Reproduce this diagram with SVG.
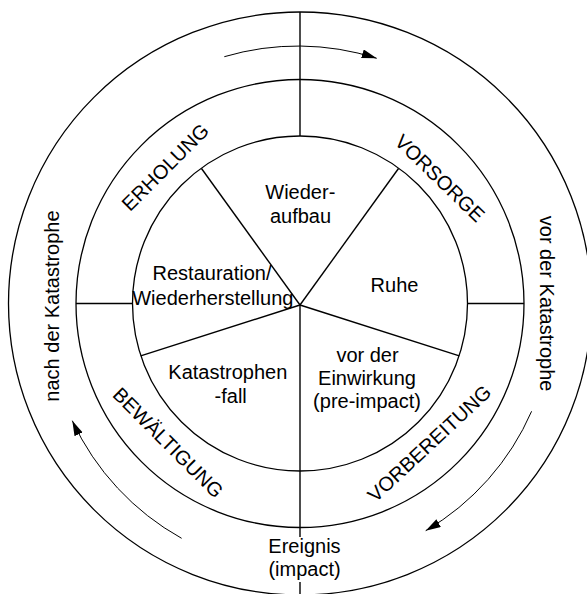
<svg xmlns="http://www.w3.org/2000/svg" width="587" height="594" viewBox="0 0 587 594">
<style>
.ring{fill:none;stroke:#000;stroke-width:1.3}
.sp{fill:none;stroke:#000;stroke-width:1.4}
.arr{fill:none;stroke:#000;stroke-width:1}
text{font-family:"Liberation Sans",Arial,sans-serif;font-size:20px;fill:#000;text-anchor:middle}
</style>
<defs>
<marker id="ah" markerUnits="userSpaceOnUse" markerWidth="16" markerHeight="10" refX="15" refY="4.5" orient="auto">
<path d="M0,0 L15,4.5 L0,9 z" fill="#000"/>
</marker>
</defs>
<rect width="587" height="594" fill="#fff"/>
<g id="rings">
<circle class="ring" cx="300" cy="303.5" r="291.5"/>
<circle class="ring" cx="300" cy="303.5" r="224"/>
<circle class="ring" cx="300" cy="303.5" r="167.5"/>
</g>
<g id="connectors">
<line class="sp" x1="300" y1="12" x2="300" y2="136"/>
<line class="sp" x1="76" y1="303.5" x2="132.5" y2="303.5"/>
<line class="sp" x1="467.5" y1="303.5" x2="524" y2="303.5"/>
<line class="sp" x1="300" y1="305" x2="201.5" y2="168.5"/>
<line class="sp" x1="300" y1="305" x2="398.5" y2="168.5"/>
<line class="sp" x1="300" y1="305" x2="459.3" y2="355.8"/>
<line class="sp" x1="300" y1="305" x2="140.7" y2="355.8"/>
<line class="sp" x1="300" y1="305" x2="300" y2="537"/>
<line class="sp" x1="300" y1="582" x2="300" y2="594"/>
<path class="arr" d="M224.3,56.7 A259,259 0 0 1 376.7,58.3" marker-end="url(#ah)"/>
<path class="arr" d="M531.6,411.3 A258,258 0 0 1 425.7,530.7" marker-end="url(#ah)"/>
<path class="arr" d="M181.6,538.3 A260,260 0 0 1 72.3,420.7" marker-end="url(#ah)"/>
</g>
<g id="sector-wiederaufbau"><text x="300.3" y="198.5">Wieder-</text><text x="300.5" y="223.3">aufbau</text></g>
<g id="sector-restauration"><text x="212" y="280">Restauration/</text><text x="212.8" y="304.5">Wiederherstellung</text></g>
<g id="sector-ruhe"><text x="394.5" y="291.7">Ruhe</text></g>
<g id="sector-vor-einwirkung"><text x="367.5" y="361.7">vor der</text><text x="367" y="385">Einwirkung</text><text x="367" y="407.5">(pre-impact)</text></g>
<g id="sector-katastrophenfall"><text x="227.8" y="379.3">Katastrophen</text><text x="230.7" y="402.5">-fall</text></g>
<g id="label-erholung"><text transform="translate(165,167) rotate(-45)" x="0" y="7.2">ERHOLUNG</text></g>
<g id="label-vorsorge"><text transform="translate(440,178) rotate(44)" x="0" y="7.2">VORSORGE</text></g>
<g id="label-bewaeltigung"><text transform="translate(168.3,442.5) rotate(45)" x="0" y="7.2">BEWÄLTIGUNG</text></g>
<g id="label-vorbereitung"><text transform="translate(429.2,443.3) rotate(-43)" x="0" y="7.2">VORBEREITUNG</text></g>
<g id="label-nach"><text transform="translate(59,306) rotate(-90)" x="0" y="0">nach der Katastrophe</text></g>
<g id="label-vor"><text transform="translate(540,303.6) rotate(90)" x="0" y="0">vor der Katastrophe</text></g>
<g id="label-ereignis"><text x="304.5" y="553.3">Ereignis</text><text x="304.5" y="576">(impact)</text></g>
</svg>
